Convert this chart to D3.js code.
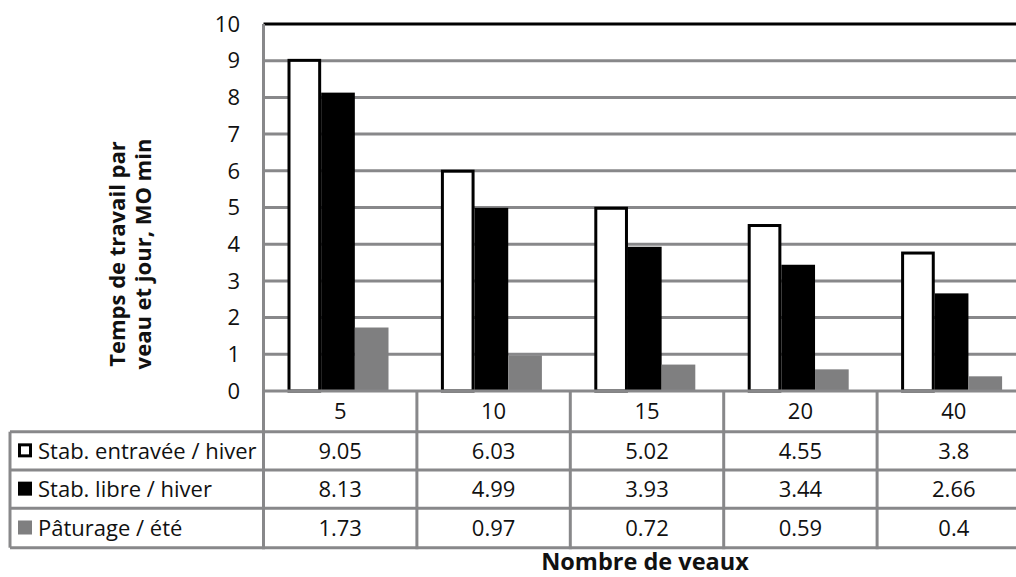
<!DOCTYPE html>
<html><head><meta charset="utf-8">
<script src="https://cdn.jsdelivr.net/npm/d3@7"></script>
<style>
html,body{margin:0;padding:0;background:#fff;overflow:hidden}
svg{display:block;font-family:"Open Sans",sans-serif}
</style></head>
<body><svg id="c" width="1016" height="577"></svg>
<script>
const categories = ["5","10","15","20","40"];
const seriesNames = ["Stab. entravée / hiver","Stab. libre / hiver","Pâturage / été"];
const entravee = [9.05,6.03,5.02,4.55,3.8];
const libre = [8.13,4.99,3.93,3.44,2.66];
const paturage = [1.73,0.97,0.72,0.59,0.4];
const yTicks = [0,1,2,3,4,5,6,7,8,9,10];
const series = [entravee, libre, paturage];

const fills = ["#ffffff","#000000","#7f7f80"];
const strokes = ["#000000","none","none"];
const gridCol = "#88888a";
const fs = 22;

const svg = d3.select("#c");
const axisX = 263.5, rightX = 263.5 + 5*153.4;
const plotTop = 24, base = 391;
const x0 = d3.scaleBand().domain(categories).range([axisX, rightX]);
const bw = x0.bandwidth();
const x1 = d3.scaleBand().domain(d3.range(3)).range([24, 125]);
const y = d3.scaleLinear().domain([0,10]).range([base, plotTop]);

svg.append("g").selectAll("line").data(yTicks.filter(t=>t>0&&t<10)).join("line")
  .attr("x1",axisX).attr("x2",rightX).attr("y1",d=>y(d)).attr("y2",d=>y(d))
  .attr("stroke",gridCol).attr("stroke-width",3);
svg.append("line").attr("x1",axisX).attr("x2",rightX).attr("y1",y(10)).attr("y2",y(10))
  .attr("stroke","#000").attr("stroke-width",3);

svg.append("g").selectAll("text").data(yTicks).join("text")
  .attr("x",240).attr("y",d=>y(d)).attr("dy","0.35em").attr("text-anchor","end")
  .attr("font-size",fs).attr("fill","#111").text(d=>d);

series.forEach((vals,si)=>{
  svg.append("g").selectAll("rect").data(vals).join("rect")
    .attr("x",(d,i)=>x0(categories[i])+x1(si) + (si===0?1.5:0))
    .attr("width",x1.bandwidth() - (si===0?3:0))
    .attr("y",d=>y(d) + (si===0?1.5:0))
    .attr("height",d=>base - y(d) - (si===0?1.5:0))
    .attr("fill",fills[si]).attr("stroke",strokes[si]).attr("stroke-width",si===0?3:0);
});

const tableLeft = 10;
const rowLines = [431.7, 470, 508.3, 547.7];
const g = svg.append("g");
g.append("line").attr("x1",axisX).attr("x2",rightX).attr("y1",base).attr("y2",base)
  .attr("stroke",gridCol).attr("stroke-width",3);
rowLines.forEach(ry=>{
  g.append("line").attr("x1",tableLeft).attr("x2",rightX).attr("y1",ry).attr("y2",ry)
    .attr("stroke",gridCol).attr("stroke-width",3);
});
g.append("line").attr("x1",tableLeft).attr("x2",tableLeft).attr("y1",rowLines[0]).attr("y2",rowLines[3])
  .attr("stroke",gridCol).attr("stroke-width",3);
categories.forEach((c,i)=>{
  const xx = x0(c);
  g.append("line").attr("x1",xx).attr("x2",xx).attr("y1",i===0?plotTop:base).attr("y2",rowLines[3]+1.5)
    .attr("stroke",gridCol).attr("stroke-width",3);
});
g.selectAll("text.cat").data(categories).join("text").attr("class","cat")
  .attr("x",d=>x0(d)+bw/2).attr("y",(base+rowLines[0])/2).attr("dy","0.35em")
  .attr("text-anchor","middle").attr("font-size",fs).attr("fill","#111").text(d=>d);
series.forEach((vals,si)=>{
  const cy = (rowLines[si]+rowLines[si+1])/2;
  g.selectAll("text.v"+si).data(vals).join("text").attr("class","v"+si)
    .attr("x",(d,i)=>x0(categories[i])+bw/2).attr("y",cy).attr("dy","0.35em")
    .attr("text-anchor","middle").attr("font-size",fs).attr("fill","#111").text(d=>d);
  if(si===0){
    g.append("rect").attr("x",19.5).attr("y",cy-6).attr("width",11).attr("height",11)
      .attr("fill","#fff").attr("stroke","#000").attr("stroke-width",3);
  } else {
    g.append("rect").attr("x",18).attr("y",cy-7.5).attr("width",14).attr("height",14)
      .attr("fill",fills[si]);
  }
  g.append("text").attr("x",38).attr("y",cy).attr("dy","0.35em")
    .attr("font-size",fs).attr("fill","#111").text(seriesNames[si]);
});

svg.append("text").attr("x",645).attr("y",570).attr("text-anchor","middle")
  .attr("font-size",23.5).attr("font-weight","bold").attr("fill","#111").text("Nombre de veaux");
const yt = svg.append("text").attr("transform","translate(131,254) rotate(-90)")
  .attr("text-anchor","middle").attr("font-size",22).attr("font-weight","bold").attr("fill","#111");
yt.append("tspan").attr("x",0).attr("dy",-6).text("Temps de travail par");
yt.append("tspan").attr("x",0).attr("dy",26).text("veau et jour, MO min");
</script></body></html>
